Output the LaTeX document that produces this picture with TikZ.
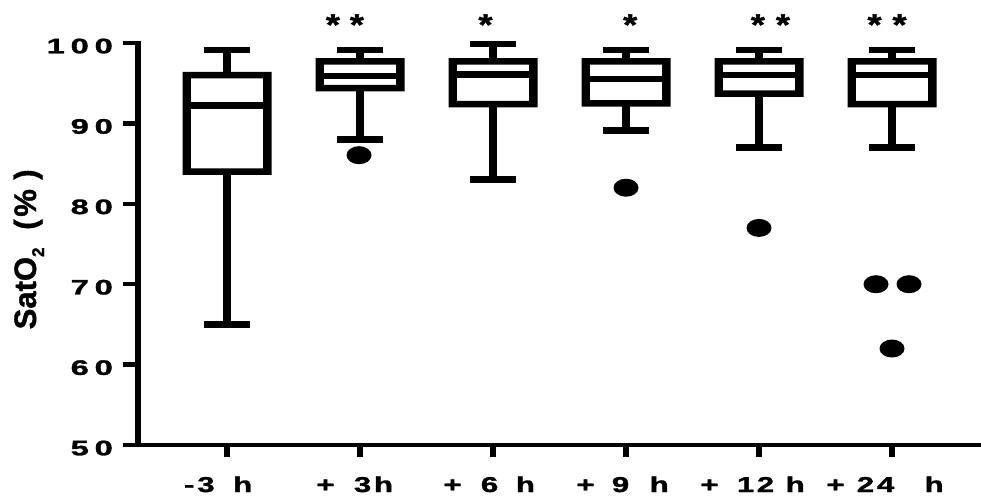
\documentclass[tikz,border=0pt]{standalone}
\usepackage{fontspec}
\setmainfont{Liberation Sans}[BoldFont={Liberation Sans Bold}]
\newfontfamily\lsb{Liberation Sans Bold}[FakeBold=1.3]
\newcommand\bxp[6]{%
 \fill[even odd rule] (#1-44.5,#3-0.404) rectangle (#1+44.5,#5+0.404)
   (#1-36.2,#3+0.404) rectangle (#1+36.2,#5-0.404);
 \fill (#1-36.5,#4-0.404) rectangle (#1+36.5,#4+0.404);
 \fill (#1-4.4,#5) rectangle (#1+4.4,#6);
 \fill (#1-4.4,#2) rectangle (#1+4.4,#3);
 \fill (#1-23,#6-0.404) rectangle (#1+23,#6+0.404);
 \fill (#1-23,#2-0.404) rectangle (#1+23,#2+0.404);
}
\newcommand\tickt[1]{\scalebox{1.55}[1]{\lsb\fontsize{21}{21}\selectfont #1}}
\newcommand\xlt[1]{\scalebox{1.45}[1]{\lsb\fontsize{21.5}{21.5}\selectfont #1}}
\newcommand\start[1]{\scalebox{1.2}[1]{\lsb\fontsize{30}{30}\selectfont #1}}
\tikzset{
  ticklab/.style={anchor=base east, inner sep=0pt},
  xlab/.style={anchor=base west, inner sep=0pt},
  outlier/.style={fill=black},
}
\begin{document}
\begin{tikzpicture}[x=1pt,y=1pt]
\useasboundingbox[fill=white] (0,0) rectangle (981,499);
\begin{scope}[y=8.04pt, yshift=-348pt]
% axes
\draw[line width=5.7pt] (137.7,100.27) -- (137.7,49.73);
\draw[line width=4.3pt] (135,50) -- (981,50);
\foreach \v in {50,60,...,100} {
  \draw[line width=4.3pt] (123,\v) -- (137,\v);
}
\node[ticklab] (y100) at (113,100-1.28) {\tickt{1\kern3.8pt0\kern3.8pt0}};
\node[ticklab] (y90) at (113,90-1.28) {\tickt{9\kern3.8pt0}};
\node[ticklab] (y80) at (113,80-1.28) {\tickt{8\kern3.8pt0}};
\node[ticklab] (y70) at (113,70-1.28) {\tickt{7\kern3.8pt0}};
\node[ticklab] (y60) at (113,60-1.28) {\tickt{6\kern3.8pt0}};
\node[ticklab] (y50) at (113,50-1.28) {\tickt{5\kern3.8pt0}};
% x ticks
\foreach \c in {227,360,493,626,759,892} {
  \draw[line width=6.5pt] (\c,50) -- (\c,48.55);
}
% boxes
\bxp{227}{65}{84}{92.2}{96}{99.1}
\bxp{360}{88}{94.4}{95.9}{97.7}{99.1}
\bxp{493}{83}{92.4}{96.1}{97.7}{99.9}
\bxp{626}{89.1}{92.5}{95.5}{97.7}{99.1}
\bxp{759}{87}{93.7}{96}{97.7}{99.1}
\bxp{892}{87}{92.4}{96}{97.7}{99.1}
% outliers
\fill[outlier] (359,86.05) ellipse [x radius=12.5pt, y radius=9pt];
\fill[outlier] (626,82) ellipse [x radius=12.5pt, y radius=9pt];
\fill[outlier] (759,77) ellipse [x radius=12.5pt, y radius=9pt];
\fill[outlier] (876,70) ellipse [x radius=12.5pt, y radius=9pt];
\fill[outlier] (909,70) ellipse [x radius=12.5pt, y radius=9pt];
\fill[outlier] (892,62) ellipse [x radius=12.5pt, y radius=9pt];
\end{scope}
% x labels
\begin{scope}[every node/.style={xlab}]
\node (x1) at (183.8,7) {\xlt{-\kern2pt 3\kern12.8pt h}};
\node (x2) at (316.2,7) {\xlt{+\kern13.3pt 3\kern1.9pt h}};
\node (x3) at (443.2,7) {\xlt{+\kern13.3pt 6\kern12.2pt h}};
\node (x4) at (576.2,7) {\xlt{+\kern11.9pt 9\kern14.2pt h}};
\node (x5) at (700.2,7) {\xlt{+\kern12.7pt 1\kern1.7pt 2\kern8pt h}};
\node (x6) at (826.2,7) {\xlt{+\kern8.4pt 2\kern2pt 4\kern20.9pt h}};
% stars
\node (s2) at (325.7,464) {\start{*\kern8.3pt*}};
\node (s3) at (478.3,464) {\start{*}};
\node (s4) at (623,464) {\start{*}};
\node (s5) at (750.7,464) {\start{*\kern9.2pt*}};
\node (s6) at (867.3,464) {\start{*\kern9.2pt*}};
\end{scope}
% y label
\node[anchor=base west, rotate=90, inner sep=0pt] (ylab) at (36,169.5)
  {\lsb\fontsize{31}{31}\selectfont SatO\raisebox{-8pt}{\fontsize{17}{17}\selectfont 2}\kern17.8pt(\kern2.7pt\%\kern9.4pt)};
\end{tikzpicture}
\end{document}
